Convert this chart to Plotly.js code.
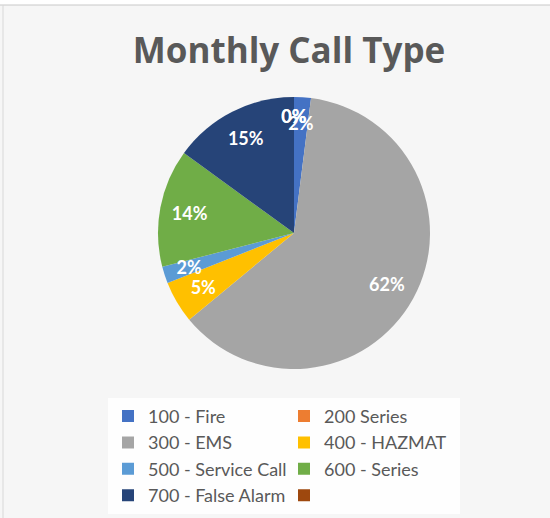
<!DOCTYPE html>
<html>
<head>
<meta charset="utf-8">
<script src="https://cdn.plot.ly/plotly-3.0.1.min.js"></script>
<style>html,body{margin:0;padding:0;background:#f6f6f6;}#chart{width:550px;height:518px;}</style>
</head>
<body>
<div id="chart"></div>
<script>
const categories = ["100 - Fire", "200 Series", "300 - EMS", "400 - HAZMAT", "500 - Service Call", "600 - Series", "700 - False Alarm", " "];
const values = [2, 0, 62, 5, 2, 14, 15, 0];
const colors = ["#4472C4", "#ED7D31", "#A5A5A5", "#FFC000", "#5B9BD5", "#70AD47", "#264478", "#9E480E"];

// plot area is 500px wide (right margin 50) so the legend wraps into two columns
const W = 500, H = 518;
const pieDomain = {x: [158/W, 430/W], y: [1 - 369/H, 1 - 97/H]};
const innerDomain = {x: [177/W, 411/W], y: [1 - 350/H, 1 - 116/H]};
const pct = "%{percent:.0%}";

const slices = {
  type: "pie",
  labels: categories,
  values: values,
  sort: false,
  direction: "clockwise",
  rotation: 0,
  marker: {colors: colors, line: {width: 0}},
  textinfo: "none",
  hoverinfo: "label+percent",
  domain: pieDomain
};

function labelRing(domain, hole, show) {
  return {
    type: "pie",
    labels: categories,
    values: values,
    sort: false,
    direction: "clockwise",
    rotation: 0,
    hole: hole,
    showlegend: false,
    marker: {colors: categories.map(() => "rgba(0,0,0,0)"), line: {width: 0}},
    texttemplate: values.map(v => show(v) ? pct : ""),
    textposition: "inside",
    insidetextorientation: "horizontal",
    textfont: {family: "Lato", size: 18, color: "#ffffff", weight: "bold"},
    hoverinfo: "skip",
    domain: domain
  };
}

const bigLabels = labelRing(pieDomain, 0.56, v => v >= 10);
const smallLabels = labelRing(innerDomain, 0.8, v => v < 10);

const layout = {
  width: 550, height: 518,
  margin: {l: 0, r: 50, t: 0, b: 0, autoexpand: false},
  paper_bgcolor: "#f6f6f6",
  plot_bgcolor: "rgba(0,0,0,0)",
  uniformtext: {minsize: 18, mode: "show"},
  title: {text: "<b>Monthly Call Type</b>", font: {family: "Open Sans", size: 35, color: "#595959"}, xref: "container", x: 289/550, xanchor: "center", y: 0.902, yanchor: "middle"},
  showlegend: true,
  legend: {
    orientation: "h", x: 108/W, xanchor: "left", y: 0.232, yanchor: "top",
    entrywidth: 131, entrywidthmode: "pixels",
    itemwidth: 30,
    font: {family: "Lato", size: 18, color: "#595959"},
    bgcolor: "rgba(255,255,255,0.85)",
    traceorder: "normal"
  },
  shapes: [
    {type: "rect", xref: "paper", yref: "paper", x0: 0, x1: 550/W, y0: 1 - 5/H, y1: 1, fillcolor: "#ffffff", line: {width: 0}, layer: "below"},
    {type: "line", xref: "paper", yref: "paper", x0: 0, x1: 550/W, y0: 1 - 5/H, y1: 1 - 5/H, line: {color: "#c8c8c8", width: 1}},
    {type: "line", xref: "paper", yref: "paper", x0: 3/W, x1: 3/W, y0: 0, y1: 1 - 5/H, line: {color: "#d8d8d8", width: 1}}
  ]
};

Plotly.newPlot("chart", [slices, bigLabels, smallLabels], layout, {displayModeBar: false, staticPlot: true});
</script>
</body>
</html>
